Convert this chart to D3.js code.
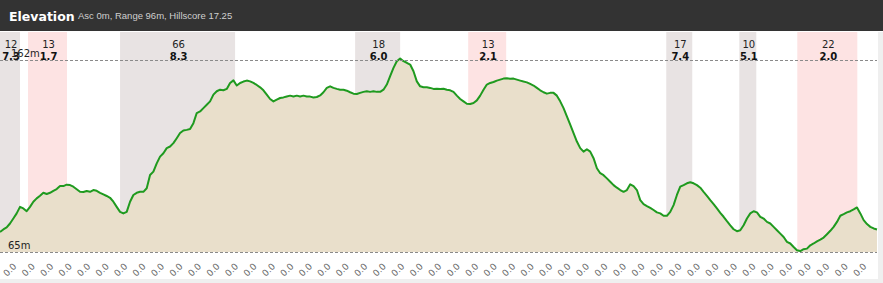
<!DOCTYPE html>
<html>
<head>
<meta charset="utf-8">
<script src="https://cdn.jsdelivr.net/npm/d3@7"></script>
<style>
body { margin: 0; background: #fff; }
svg { display: block; font-family: "DejaVu Sans", sans-serif; }
</style>
</head>
<body>
<svg id="chartsvg" width="883" height="283"></svg>
<script>
var vis = d3.select("#chartsvg");
const W = 883, H = 283;
const plotTop = 32, plotRight = 877;

// elevation in metres, one sample per step along the route
let elevation = [
    75.1, 76.4, 77.4, 79.4, 81.9, 84.5, 87.8, 87.0, 85.6, 87.8,
    90.4, 92.1, 93.4, 94.9, 94.3, 94.9, 95.9, 96.8, 98.3, 98.3,
    99.0, 98.8, 98.0, 96.7, 95.4, 95.3, 95.8, 95.4, 96.3, 95.9,
    94.9, 94.1, 93.3, 92.4, 90.4, 87.8, 85.3, 84.5, 85.3, 90.4,
    93.8, 94.9, 95.4, 95.4, 97.2, 103.9, 105.6, 109.8, 113.2, 114.9,
    117.5, 118.3, 120.0, 122.5, 125.1, 126.4, 126.7, 127.1, 130.1, 135.2,
    136.0, 137.7, 139.4, 141.1, 144.5, 146.2, 147.0, 146.7, 147.4, 150.4,
    151.7, 149.1, 150.4, 151.1, 151.6, 151.2, 150.4, 149.4, 148.2, 146.7,
    144.5, 142.3, 141.1, 142.0, 142.8, 143.1, 143.6, 144.0, 143.6, 144.0,
    143.6, 144.0, 143.6, 143.5, 143.1, 143.3, 144.1, 145.7, 147.9, 148.7,
    147.9, 147.4, 147.0, 147.0, 146.5, 145.7, 145.0, 144.8, 145.4, 145.9,
    146.2, 145.9, 146.2, 145.9, 145.9, 147.0, 149.6, 153.8, 158.0, 161.4,
    162.8, 161.4, 160.6, 159.7, 156.3, 151.2, 148.7, 148.2, 148.2, 147.9,
    147.4, 147.5, 147.4, 147.5, 147.0, 146.7, 145.9, 144.0, 142.3, 141.1,
    139.9, 139.8, 140.3, 141.6, 144.0, 147.0, 149.6, 150.4, 150.9, 151.6,
    152.1, 152.6, 152.8, 152.5, 152.6, 152.1, 151.6, 151.1, 150.7, 149.9,
    149.1, 147.9, 146.7, 145.7, 145.0, 145.4, 145.4, 144.0, 141.1, 137.7,
    133.5, 129.3, 125.1, 120.8, 117.5, 115.7, 116.9, 115.7, 112.4, 107.3,
    104.8, 103.8, 102.2, 100.5, 98.8, 97.5, 96.3, 95.4, 96.3, 99.2,
    98.3, 96.3, 91.2, 89.2, 88.2, 87.3, 86.2, 85.0, 84.5, 83.3,
    83.3, 85.3, 88.7, 93.8, 98.0, 98.8, 99.7, 100.2, 99.7, 98.8,
    97.5, 95.4, 93.4, 91.2, 89.2, 87.0, 84.8, 82.8, 80.6, 78.5,
    76.5, 75.5, 76.0, 78.5, 81.9, 84.5, 85.6, 85.0, 82.8, 81.9,
    80.2, 79.4, 77.7, 76.0, 74.3, 72.6, 70.1, 69.3, 67.5, 65.9,
    65.5, 66.4, 66.7, 68.4, 69.3, 70.4, 71.3, 72.3, 74.0, 75.7,
    77.7, 80.2, 83.3, 84.1, 85.0, 85.6, 86.5, 87.5, 84.5, 81.1,
    79.1, 77.7, 76.9, 76.4
];

// highlighted segments (in sample steps), with their counts and scores
let segStart = [0, 8.4, 36, 106.5, 140.4, 199.8, 221.7, 239.1];
let segEnd = [6, 20.1, 70.5, 120, 151.8, 207.6, 226.8, 257.1];
let segCount = ["12", "13", "66", "18", "13", "17", "10", "22"];
let segScore = ["7.3", "1.7", "8.3", "6.0", "2.1", "7.4", "5.1", "2.0"];
let segKind = ["hill", "low", "hill", "hill", "low", "hill", "hill", "low"];

let refLevels = [162, 65];
let refLabels = ["162m", "65m"];

let tickLabels = [
    "0.0", "0.0", "0.0", "0.0", "0.0", "0.0", "0.0", "0.0", "0.0", "0.0",
    "0.0", "0.0", "0.0", "0.0", "0.0", "0.0", "0.0", "0.0", "0.0", "0.0",
    "0.0", "0.0", "0.0", "0.0", "0.0", "0.0", "0.0", "0.0", "0.0", "0.0",
    "0.0", "0.0", "0.0", "0.0", "0.0", "0.0", "0.0", "0.0", "0.0", "0.0",
    "0.0", "0.0", "0.0", "0.0", "0.0", "0.0", "0.0"
];

var segColor = d3.scaleOrdinal().domain(["hill", "low"]).range(["#e8e3e3", "#fde3e3"]);

var x = d3.scaleLinear().domain([0, elevation.length - 1]).range([0, plotRight]);
var y = d3.scaleLinear().domain([65, 162]).range([252, 60]);
var tickX = d3.scalePoint().domain(d3.range(tickLabels.length)).range([12, 862]);

function translate(a, b) { return "translate(" + a + "," + b + ")"; }

// header
vis.append("rect").attr("width", W).attr("height", 31).attr("fill", "#333333");
vis.append("text")
    .attr("x", 9).attr("y", 21)
    .attr("fill", "#fff")
    .style("font-size", "12.5px").style("font-weight", "bold")
    .text("Elevation");
vis.append("text")
    .attr("x", 78).attr("y", 19)
    .attr("fill", "#cfcfcf")
    .style("font-family", "'Liberation Sans', Arial, sans-serif")
    .style("font-size", "9.5px")
    .text("Asc 0m, Range 96m, Hillscore 17.25");

// light edges
vis.append("rect").attr("x", 878).attr("y", plotTop).attr("width", 5).attr("height", H - plotTop).attr("fill", "#efefef");
vis.append("rect").attr("x", 0).attr("y", 279).attr("width", W).attr("height", 4).attr("fill", "#efefef");

// segment bands
var seg = vis.selectAll(".seg").data(segStart)
    .enter().append("g").attr("class", "seg");

seg.append("rect")
    .attr("x", (d, i) => x(d))
    .attr("y", plotTop)
    .attr("width", (d, i) => x(segEnd[i]) - x(d))
    .attr("height", y(65) - plotTop)
    .attr("fill", (d, i) => segColor(segKind[i]));

// profile
var area = d3.area().x((d, i) => x(i)).y0(y(65)).y1(d => y(d));
var line = d3.line().x((d, i) => x(i)).y(d => y(d));

vis.append("path").datum(elevation)
    .attr("d", area)
    .attr("fill", "#e9dfcb");

vis.append("path").datum(elevation)
    .attr("d", line)
    .attr("fill", "none")
    .attr("stroke", "#1f9a1f")
    .attr("stroke-width", 2)
    .attr("stroke-linejoin", "round");

// reference lines
vis.selectAll(".ref").data(refLevels)
    .enter().append("line").attr("class", "ref")
    .attr("x1", 0).attr("x2", plotRight)
    .attr("y1", d => y(d) + 0.5).attr("y2", d => y(d) + 0.5)
    .attr("stroke", "#8a8a8a")
    .attr("stroke-dasharray", "3,2");

vis.selectAll(".reflabel").data(refLevels)
    .enter().append("text").attr("class", "reflabel")
    .attr("x", (d, i) => i == 0 ? 11 : 8)
    .attr("y", d => y(d) - 3)
    .attr("fill", "#222")
    .style("font-size", "10px")
    .text((d, i) => refLabels[i]);

// segment labels
seg.append("text")
    .attr("x", (d, i) => (x(d) + x(segEnd[i])) / 2 + 1)
    .attr("y", 48)
    .attr("text-anchor", "middle")
    .attr("fill", "#222")
    .style("font-size", "10px")
    .text((d, i) => segCount[i]);

seg.append("text")
    .attr("x", (d, i) => (x(d) + x(segEnd[i])) / 2 + 1)
    .attr("y", 60)
    .attr("text-anchor", "middle")
    .attr("fill", "#111")
    .style("font-size", "10px").style("font-weight", "bold")
    .text((d, i) => segScore[i]);

// bottom tick labels
vis.selectAll(".tick").data(tickLabels)
    .enter().append("text").attr("class", "tick")
    .attr("transform", (d, i) => translate(tickX(i), 272) + " rotate(-45)")
    .attr("text-anchor", "middle")
    .attr("fill", "#666")
    .style("font-size", "9px")
    .text(d => d);
</script>
</body>
</html>
